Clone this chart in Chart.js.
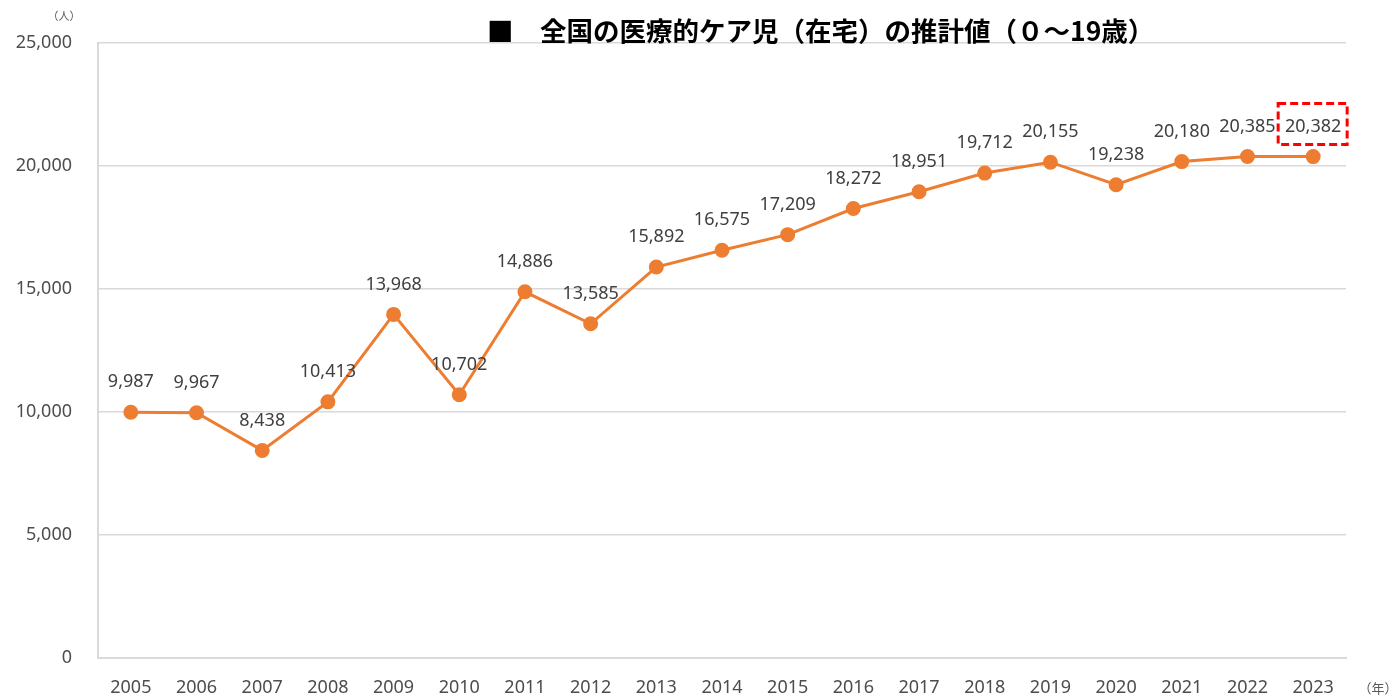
<!DOCTYPE html>
<html>
<head>
<meta charset="utf-8">
<script src="https://cdn.jsdelivr.net/npm/chart.js@4"></script>
<style>
  body { margin: 0; background: #fff; }
  #wrap { width: 1396px; height: 696px; position: relative; }
</style>
</head>
<body>
<div id="wrap"><canvas id="myChart"></canvas></div>
<script>
const years = ["2005", "2006", "2007", "2008", "2009", "2010", "2011", "2012", "2013", "2014",
  "2015", "2016", "2017", "2018", "2019", "2020", "2021", "2022", "2023"];
const children = [9987, 9967, 8438, 10413, 13968, 10702, 14886, 13585, 15892, 16575,
  17209, 18272, 18951, 19712, 20155, 19238, 20180, 20385, 20382];
const yTicks = [0, 5000, 10000, 15000, 20000, 25000];
const titleText = "■　全国の医療的ケア児（在宅）の推計値（０～19歳）";
const highlightIndex = 18;

const fmt = (v) => v.toLocaleString("en-US");
const numFont = "'Noto Sans', 'Open Sans', sans-serif";

// labels, title, units and the red dashed box
const extras = {
  id: "extras",
  afterDatasetsDraw(chart) {
    const ctx = chart.ctx;
    const meta = chart.getDatasetMeta(0);
    ctx.save();
    ctx.font = "18px " + numFont;
    ctx.fillStyle = "#404040";
    ctx.textAlign = "center";
    ctx.textBaseline = "middle";
    meta.data.forEach((pt, i) => {
      ctx.fillText(fmt(children[i]), pt.x, pt.y - 30);
    });

    const hp = meta.data[highlightIndex];
    ctx.strokeStyle = "#ff0000";
    ctx.lineWidth = 3;
    ctx.setLineDash([8, 4]);
    ctx.strokeRect(hp.x - 35, hp.y - 53, 69, 41);
    ctx.setLineDash([]);

    ctx.fillStyle = "#000";
    ctx.font = "bold 26.5px 'Noto Sans CJK JP', sans-serif";
    ctx.textAlign = "left";
    ctx.fillText(titleText, 487, 31);

    ctx.fillStyle = "#595959";
    ctx.font = "11px 'Noto Sans CJK JP', sans-serif";
    ctx.textAlign = "center";
    ctx.fillText("（人）", 64, 16);
    ctx.font = "13px 'Noto Sans CJK JP', sans-serif";
    ctx.fillText("（年）", 1378, 688);
    ctx.restore();
  }
};

const config = {
  type: "line",
  data: {
    labels: years,
    datasets: [
      {
        data: children,
        borderColor: "#ed7d31",
        backgroundColor: "#ed7d31",
        borderWidth: 3,
        pointRadius: 6,
        pointHoverRadius: 6,
        tension: 0,
      },
    ],
  },
  options: {
    responsive: true,
    maintainAspectRatio: false,
    animation: false,
    layout: {
      padding: { top: 43, right: 50, left: 0, bottom: 0 },
    },
    plugins: {
      legend: { display: false },
      tooltip: { enabled: false },
    },
    scales: {
      x: {
        offset: true,
        afterFit(scale) { scale.height = 38; },
        grid: {
          display: false,
          drawTicks: false,
        },
        border: { display: true, color: "#d9d9d9", width: 2 },
        ticks: {
          padding: 19,
          color: "#4d4d4d",
          font: { size: 18, family: numFont },
          maxRotation: 0,
        },
      },
      y: {
        min: 0,
        max: 25000,
        afterFit(scale) { scale.width = 98; },
        afterBuildTicks(scale) {
          scale.ticks = yTicks.map((v) => ({ value: v }));
        },
        grid: {
          color: "#d9d9d9",
          lineWidth: 1.5,
          drawTicks: false,
        },
        border: { display: true, color: "#d9d9d9", width: 2 },
        ticks: {
          padding: 26,
          color: "#4d4d4d",
          font: { size: 18, family: numFont },
          callback: (v) => fmt(v),
        },
      },
    },
  },
  plugins: [extras],
};

new Chart(document.getElementById("myChart").getContext("2d"), config);
</script>
</body>
</html>
